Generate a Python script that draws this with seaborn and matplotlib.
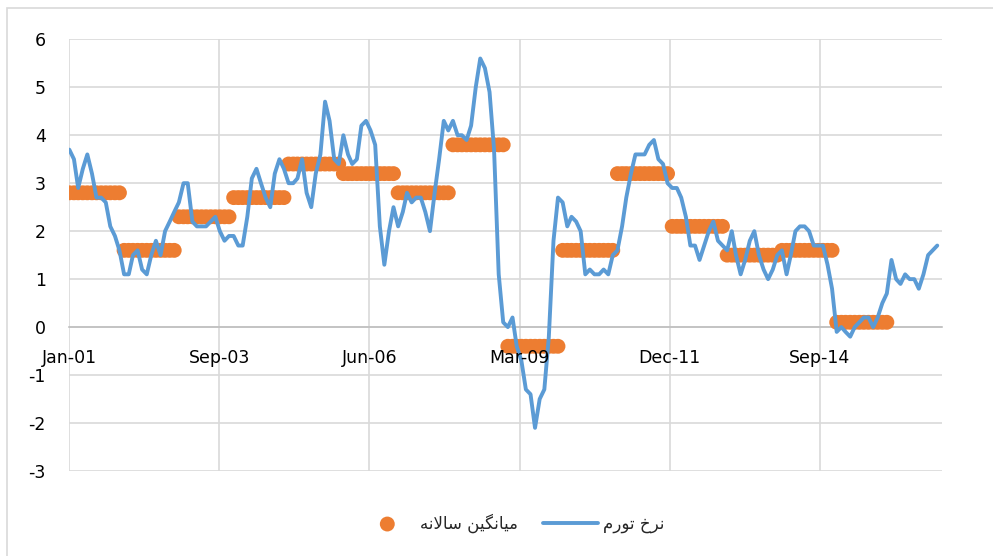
import numpy as np
import pandas as pd
import matplotlib
matplotlib.use('Agg')
import matplotlib.pyplot as plt
import matplotlib.dates as mdates
from matplotlib.patches import Rectangle
import seaborn as sns

# monthly inflation rate (%), Jan 2001 - Nov 2016
infl_2001 = [3.7, 3.5, 2.9, 3.3, 3.6, 3.2, 2.7, 2.7, 2.6, 2.1, 1.9, 1.6]
infl_2002 = [1.1, 1.1, 1.5, 1.6, 1.2, 1.1, 1.5, 1.8, 1.5, 2.0, 2.2, 2.4]
infl_2003 = [2.6, 3.0, 3.0, 2.2, 2.1, 2.1, 2.1, 2.2, 2.3, 2.0, 1.8, 1.9]
infl_2004 = [1.9, 1.7, 1.7, 2.3, 3.1, 3.3, 3.0, 2.7, 2.5, 3.2, 3.5, 3.3]
infl_2005 = [3.0, 3.0, 3.1, 3.5, 2.8, 2.5, 3.2, 3.6, 4.7, 4.3, 3.5, 3.4]
infl_2006 = [4.0, 3.6, 3.4, 3.5, 4.2, 4.3, 4.1, 3.8, 2.1, 1.3, 2.0, 2.5]
infl_2007 = [2.1, 2.4, 2.8, 2.6, 2.7, 2.7, 2.4, 2.0, 2.8, 3.5, 4.3, 4.1]
infl_2008 = [4.3, 4.0, 4.0, 3.9, 4.2, 5.0, 5.6, 5.4, 4.9, 3.7, 1.1, 0.1]
infl_2009 = [0.0, 0.2, -0.4, -0.7, -1.3, -1.4, -2.1, -1.5, -1.3, -0.2, 1.8, 2.7]
infl_2010 = [2.6, 2.1, 2.3, 2.2, 2.0, 1.1, 1.2, 1.1, 1.1, 1.2, 1.1, 1.5]
infl_2011 = [1.6, 2.1, 2.7, 3.2, 3.6, 3.6, 3.6, 3.8, 3.9, 3.5, 3.4, 3.0]
infl_2012 = [2.9, 2.9, 2.7, 2.3, 1.7, 1.7, 1.4, 1.7, 2.0, 2.2, 1.8, 1.7]
infl_2013 = [1.6, 2.0, 1.5, 1.1, 1.4, 1.8, 2.0, 1.5, 1.2, 1.0, 1.2, 1.5]
infl_2014 = [1.6, 1.1, 1.5, 2.0, 2.1, 2.1, 2.0, 1.7, 1.7, 1.7, 1.3, 0.8]
infl_2015 = [-0.1, 0.0, -0.1, -0.2, 0.0, 0.1, 0.2, 0.2, 0.0, 0.2, 0.5, 0.7]
infl_2016 = [1.4, 1.0, 0.9, 1.1, 1.0, 1.0, 0.8, 1.1, 1.5, 1.6, 1.7]

# annual averages (one per calendar year)
years = list(range(2001, 2016))
annual_avg = [2.8, 1.6, 2.3, 2.7, 3.4, 3.2, 2.8, 3.8, -0.4, 1.6, 3.2, 2.1, 1.5, 1.6, 0.1]

label_infl = 'نرخ تورم'
label_avg = 'میانگین سالانه'

BLUE = '#5B9BD5'
ORANGE = '#ED7D31'
GRID = '#D9D9D9'

# --- tiny Persian shaper (matplotlib has no bidi / joining) ---
FORMS = {
    'ا': ('\ufe8d', '\ufe8e', None, None),
    'ت': ('\ufe95', '\ufe96', '\ufe97', '\ufe98'),
    'خ': ('\ufea5', '\ufea6', '\ufea7', '\ufea8'),
    'ر': ('\ufead', '\ufeae', None, None),
    'س': ('\ufeb1', '\ufeb2', '\ufeb3', '\ufeb4'),
    'ل': ('\ufedd', '\ufede', '\ufedf', '\ufee0'),
    'م': ('\ufee1', '\ufee2', '\ufee3', '\ufee4'),
    'ن': ('\ufee5', '\ufee6', '\ufee7', '\ufee8'),
    'ه': ('\ufee9', '\ufeea', '\ufeeb', '\ufeec'),
    'و': ('\ufeed', '\ufeee', None, None),
    'ی': ('\ufbfc', '\ufbfd', '\ufbfe', '\ufbff'),
    'گ': ('\ufb92', '\ufb93', '\ufb94', '\ufb95'),
    '\ufefb': ('\ufefb', '\ufefc', None, None),
}
NON_JOIN_NEXT = set('اردزژو\ufefb')


def shape_fa(text):
    text = text.replace('لا', '\ufefb')
    out = []
    for i, ch in enumerate(text):
        if ch not in FORMS:
            out.append(ch)
            continue
        prev = text[i - 1] if i > 0 else ' '
        nxt = text[i + 1] if i + 1 < len(text) else ' '
        join_prev = prev in FORMS and prev not in NON_JOIN_NEXT
        join_next = nxt in FORMS and ch not in NON_JOIN_NEXT
        iso, fin, ini, med = FORMS[ch]
        if join_prev and join_next:
            out.append(med)
        elif join_prev:
            out.append(fin)
        elif join_next:
            out.append(ini)
        else:
            out.append(iso)
    return ''.join(reversed(out))


infl = (infl_2001 + infl_2002 + infl_2003 + infl_2004 + infl_2005 + infl_2006 +
        infl_2007 + infl_2008 + infl_2009 + infl_2010 + infl_2011 + infl_2012 +
        infl_2013 + infl_2014 + infl_2015 + infl_2016)
dates = pd.date_range('2001-01-01', periods=len(infl), freq='MS')
df = pd.DataFrame({'date': dates, 'infl': infl})

avg_rows = []
for y, v in zip(years, annual_avg):
    for d in pd.date_range(f'{y}-01-01', periods=12, freq='MS'):
        avg_rows.append((d, v))
avg_df = pd.DataFrame(avg_rows, columns=['date', 'avg'])

sns.set_style('white')
plt.rcParams['font.family'] = ['DejaVu Sans']
plt.rcParams['axes.unicode_minus'] = False

fig = plt.figure(figsize=(9.93, 5.56), dpi=100)
pos = [0.0698, 0.1529, 0.8786, 0.7764]
ax = fig.add_axes(pos)

sns.scatterplot(data=avg_df, x='date', y='avg', ax=ax, color=ORANGE, s=115,
                edgecolor='none', label=shape_fa(label_avg), zorder=3)
sns.lineplot(data=df, x='date', y='infl', ax=ax, color=BLUE, linewidth=2.8,
             sort=False, estimator=None, label=shape_fa(label_infl), zorder=4)

start = pd.Timestamp('2001-01-01')
xt = [start + pd.Timedelta(days=1000 * k) for k in range(6)]
ax.set_xticks(xt)
ax.xaxis.set_major_formatter(mdates.DateFormatter('%b-%y'))
ax.set_xlim(start, pd.Timestamp('2016-12-01'))
ax.set_ylim(-3, 6)
ax.set_yticks(range(-3, 7))

ax.grid(True, color=GRID, linewidth=1.2)
ax.set_axisbelow(True)
for s in ['top', 'right', 'left']:
    ax.spines[s].set_visible(False)
ax.spines['bottom'].set_position(('data', 0))
ax.spines['bottom'].set_color('#BFBFBF')
ax.spines['bottom'].set_linewidth(1.2)
ax.spines['bottom'].set_zorder(2)
ax.tick_params(axis='x', length=0, labelbottom=False)
ax.tick_params(axis='y', length=0, pad=17, labelsize=12.5, colors='black')
ax.set_xlabel('')
ax.set_ylabel('')

# transparent overlay so the date labels sit on top of the data, as in Excel
ax_lab = fig.add_axes(pos, sharex=ax, sharey=ax)
ax_lab.patch.set_visible(False)
ax_lab.grid(False)
for s in ['top', 'right', 'left', 'bottom']:
    ax_lab.spines[s].set_visible(False)
ax_lab.spines['bottom'].set_position(('data', 0))
ax_lab.tick_params(axis='y', left=False, labelleft=False)
ax_lab.tick_params(axis='x', length=0, pad=16, labelsize=12.5, colors='black')

handles, labels = ax.get_legend_handles_labels()
ax.get_legend().remove()
fig.legend(handles, labels, loc='center', bbox_to_anchor=(0.5156, 0.0594), ncol=2,
           frameon=False, fontsize=12, handlelength=3.3, handletextpad=0.3,
           columnspacing=1.5, markerscale=1.0)

fig.patches.append(Rectangle((7 / 993, -0.1), 1.2, 0.9856 + 0.1, transform=fig.transFigure,
                             fill=False, edgecolor=GRID, linewidth=1.2))

fig.savefig('out.png', dpi=100)
